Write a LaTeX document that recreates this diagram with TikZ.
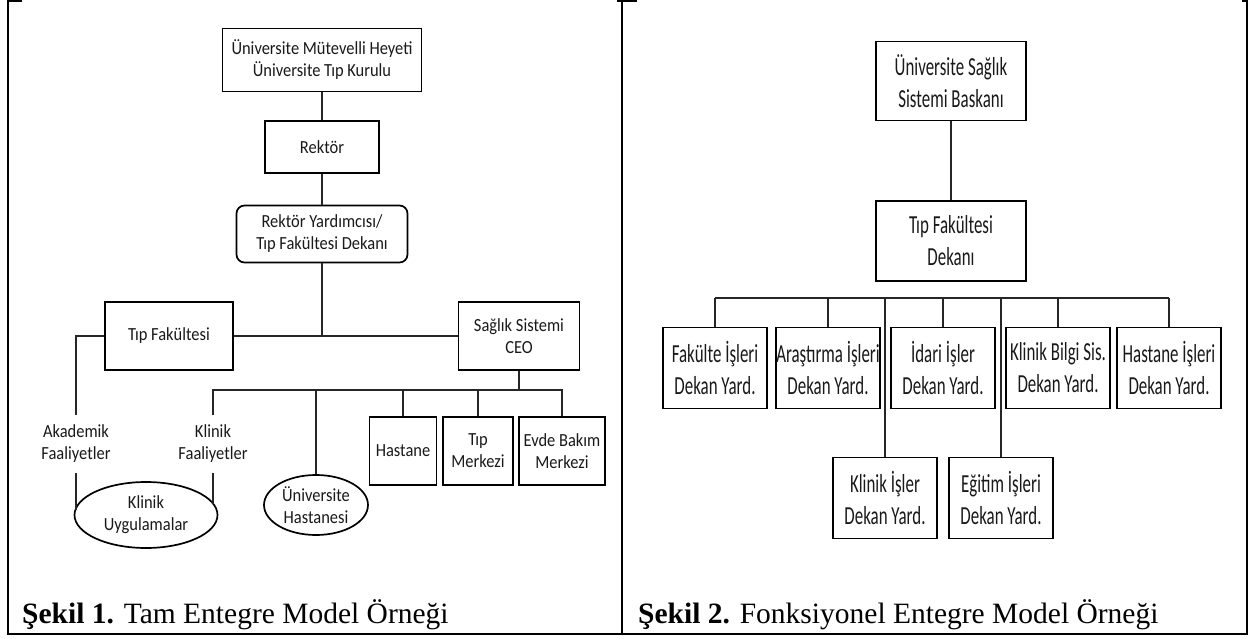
\documentclass[tikz,border=0pt]{standalone}
\usepackage{fontspec}
\setmainfont{Liberation Serif}
\newfontfamily\orgfont[FakeStretch=0.89]{Carlito}
\newfontfamily\orgnarrow[FakeStretch=0.65]{Carlito}
\usetikzlibrary{shapes.geometric}

\begin{document}
\begin{tikzpicture}[x=1pt,y=-1pt,
	kutu/.style={draw, line width=1.7pt, inner sep=0pt, align=center, text=black!90, font=\orgfont\fontsize{18.5}{22}\selectfont},
	yuvarlak/.style={kutu, rounded corners=8pt},
	elips/.style={kutu, ellipse},
	yazi/.style={align=center, inner sep=0pt, minimum height=58pt, text=black!90, font=\orgfont\fontsize{18.5}{22}\selectfont},
	dkutu/.style={draw, line width=1.7pt, inner sep=0pt, align=center, text=black!90, minimum width=104pt, minimum height=81pt, font=\orgnarrow\fontsize{26}{32}\selectfont},
	bag/.style={line width=1.3pt, black!85},
	cerceve/.style={line width=2.6pt},
	baslik/.style={anchor=base west, inner sep=0pt, font=\fontsize{29.5}{34}\selectfont}]
	%%%%% START %%%%%
	
	\useasboundingbox (0,0) rectangle (1250,639);
	
	% table frame
	\draw[cerceve] (22,1) -- (8,1) -- (8,634) -- (1247,634) -- (1247,1) -- (1242,1);
	\draw[cerceve] (617,1) -- (637,1);
	\draw[cerceve] (622,1) -- (622,634);
	
	% Sekil 1
	\node[kutu, minimum width=199pt, minimum height=63pt] (heyet) at (322,60) {Üniversite Mütevelli Heyeti\\Üniversite Tıp Kurulu};
	\node[kutu, minimum width=114pt, minimum height=52pt] (rektor) at (322,147) {Rektör};
	\node[yuvarlak, minimum width=171pt, minimum height=57pt] (yardimci) at (322,234) {Rektör Yardımcısı/\\Tıp Fakültesi Dekanı};
	\node[kutu, minimum width=128pt, minimum height=68pt] (tipfak) at (169,336) {Tıp Fakültesi};
	\node[kutu, minimum width=121pt, minimum height=68pt] (ceo) at (519,336) {Sağlık Sistemi\\CEO};
	\node[yazi] (akademik) at (76,444) {Akademik\\Faaliyetler};
	\node[yazi] (klinikfa) at (213,444) {Klinik\\Faaliyetler};
	\node[elips, minimum width=143pt, minimum height=66pt] (klinikuy) at (146,515) {Klinik\\Uygulamalar};
	\node[elips, minimum width=104pt, minimum height=60pt] (unihast) at (316,505) {Üniversite\\Hastanesi};
	\node[kutu, minimum width=67pt, minimum height=68pt] (hastane) at (403,451) {Hastane};
	\node[kutu, minimum width=70pt, minimum height=68pt] (tipmerkez) at (478,451) {Tıp\\Merkezi};
	\node[kutu, minimum width=86pt, minimum height=68pt] (evde) at (562,451) {Evde Bakım\\Merkezi};
	\coordinate (ceobus) at (519,390);
	
	\draw[bag] (heyet.south) -- (rektor.north);
	\draw[bag] (rektor.south) -- (yardimci.north);
	\draw[bag] (tipfak.east) -- (ceo.west);
	\draw[bag] (yardimci.south) -- (yardimci.south |- tipfak.east);
	\draw[bag] (tipfak.west) -| (akademik.north);
	\draw[bag] (akademik.south) -- (akademik.south |- klinikuy.176);
	\draw[bag] (klinikfa.south) -- (klinikfa.south |- klinikuy.9);
	\draw[bag] (ceo.south) -- (ceobus);
	\draw[bag] (klinikfa.north) |- (ceobus) -| (evde.north);
	\foreach \n in {unihast, hastane, tipmerkez}
		\draw[bag] (\n.north |- ceobus) -- (\n.north);
	
	% Sekil 2
	\node[dkutu, minimum width=150pt, minimum height=79pt] (baskan) at (951,81) {Üniversite Sağlık\\Sistemi Baskanı};
	\node[dkutu, minimum width=150pt, minimum height=80pt] (dekan) at (951,241) {Tıp Fakültesi\\Dekanı};
	\node[dkutu] (fakulte) at (715,368) {Fakülte İşleri\\Dekan Yard.};
	\node[dkutu] (arastirma) at (828,368) {Araştırma İşleri\\Dekan Yard.};
	\node[dkutu] (idari) at (943,368) {İdari İşler\\Dekan Yard.};
	\node[dkutu] (klbilgi) at (1058,368) {Klinik Bilgi Sis.\\Dekan Yard.};
	\node[dkutu] (hastis) at (1169,368) {Hastane İşleri\\Dekan Yard.};
	\node[dkutu] (klinis) at (885,498) {Klinik İşler\\Dekan Yard.};
	\node[dkutu] (egitim) at (1001,498) {Eğitim İşleri\\Dekan Yard.};
	\coordinate (dbus) at (951,298);
	
	\draw[bag] (baskan.south) -- (dekan.north);
	\draw[bag] (fakulte.north |- dbus) -- (hastis.north |- dbus);
	\foreach \n in {fakulte, arastirma, idari, klinis, egitim, klbilgi, hastis}
		\draw[bag] (\n.north |- dbus) -- (\n.north);
	
	% captions
	\node[baslik] (sekil1) at (22,623) {\textbf{Şekil 1.} Tam Entegre Model Örneği};
	\node[baslik] (sekil2) at (638,623) {\textbf{Şekil 2.} Fonksiyonel Entegre Model Örneği};
	
	%%%%% END %%%%%
\end{tikzpicture}
\end{document}
